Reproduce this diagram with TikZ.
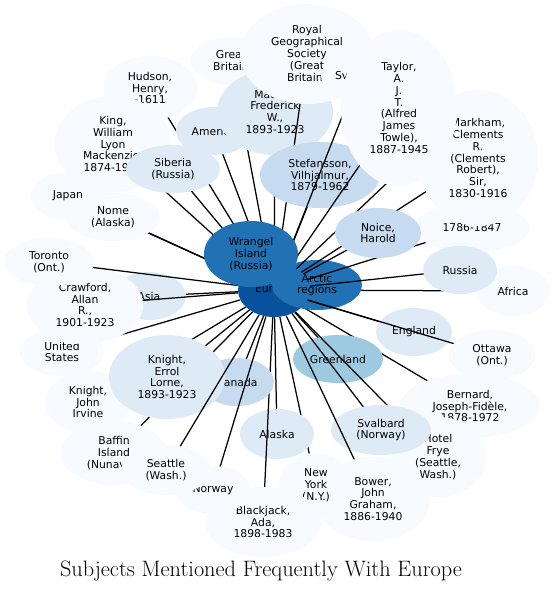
\documentclass[tikz,border=0pt]{standalone}
\usepackage{fontspec}
\newfontfamily\dejavu{DejaVu Sans}
\usetikzlibrary{shapes.geometric}
\definecolor{bl0}{HTML}{F7FBFF}
\definecolor{bl1}{HTML}{DEEBF7}
\definecolor{bl2}{HTML}{C6DBEF}
\definecolor{bl3}{HTML}{9ECAE1}
\definecolor{bl5}{HTML}{2171B5}
\definecolor{bl6}{HTML}{08519C}
\tikzset{bubble/.style={ellipse, inner sep=0pt, align=center, font=\dejavu\fontsize{10.8}{11.9}\selectfont},
link/.style={line width=1.25pt, black},
caption/.style={font=\fontsize{22.3}{26}\selectfont}}

\begin{document}
\begin{tikzpicture}[x=1pt, y=-1pt]
  \useasboundingbox[fill=white] (0,0) rectangle (555,593);
  % hub
  \node[bubble, fill=bl6, minimum width=72pt, minimum height=54pt] (eu) at (274,290) {Europe};
  % subjects, in drawing order: link first, bubble on top of it
  \foreach \n/\x/\y/\w/\h/\col/\txt in {
    africa/513/291/74/50/bl0/{Africa},
    bernard/470/406/140/64/bl0/{Bernard,\\Joseph-Fidèle,\\1878-1972},
    hudson/150/88/94/64/bl0/{Hudson,\\Henry,\\-1611},
    japan/68/196/74/48/bl0/{Japan},
    nome/113/217/94/48/bl0/{Nome\\(Alaska)},
    king/113/144/116/96/bl0/{King,\\William\\Lyon\\Mackenzie,\\1874-1950},
    gb/231/61/80/48/bl0/{Great\\Britain},
    america/214/131/76/48/bl1/{America},
    maurer/275/112/116/86/bl1/{Maurer,\\Frederick\\W.,\\1893-1923},
    royal/307/54/134/100/bl0/{Royal\\Geographical\\Society\\(Great\\Britain)},
    siberia/173/169/94/48/bl1/{Siberia\\(Russia)},
    arctic/317/285/90/50/bl5/{Arctic\\regions},
    greenland/338/359/90/48/bl3/{Greenland},
    stef/320/175/120/66/bl2/{Stefansson,\\Vilhjalmur,\\1879-1962},
    franklin/472/228/116/48/bl0/{1786-1847},
    markham/478/158/120/136/bl0/{Markham,\\Clements\\R.\\(Clements\\Robert),\\Sir,\\1830-1916},
    sv/358/76/74/50/bl0/{\makebox[46pt][l]{Sv}}}{
    \coordinate (c-\n) at (\x,\y);
    \draw[link] (eu) -- (c-\n);
    \node[bubble, fill=\col, minimum width=\w pt, minimum height=\h pt] (\n) at (c-\n) {\txt};
  }
  % link whose end lies under Taylor
  \coordinate (c-hid) at (445,128);
  \draw[link] (eu) -- (c-hid);
  \foreach \n/\x/\y/\w/\h/\col/\txt in {
    taylor/399/108/116/156/bl0/{Taylor,\\A.\\J.\\T.\\(Alfred\\James\\Towle),\\1887-1945},
    noice/378/233/86/50/bl2/{Noice,\\Harold},
    russia/460/270/74/48/bl1/{Russia},
    england/414/332/76/48/bl1/{England},
    ottawa/492/355/86/50/bl0/{Ottawa\\(Ont.)},
    hotel/438/457/96/80/bl0/{Hotel\\Frye\\(Seattle,\\Wash.)},
    svalbard/381/430/100/50/bl1/{Svalbard\\(Norway)},
    bower/373/499/114/84/bl0/{Bower,\\John\\Graham,\\1886-1940},
    newyork/316/485/74/64/bl0/{New\\York\\(N.Y.)},
    alaska/277/434/74/50/bl1/{Alaska},
    blackjack/263/522/116/70/bl0/{Blackjack,\\Ada,\\1898-1983},
    canada/237/382/74/48/bl2/{Canada},
    baffin/114/453/106/64/bl0/{Baffin\\Island\\(Nunavut)},
    kji/88/402/86/62/bl0/{Knight,\\John\\Irvine},
    knighte/167/377/116/84/bl1/{Knight,\\Errol\\Lorne,\\1893-1923},
    norway/213/490/74/48/bl0/{Norway},
    seattle/166/470/90/50/bl0/{Seattle\\(Wash.)},
    us/62/352/84/48/bl0/{United\\States},
    asia/149/296/74/48/bl1/{Asia},
    crawford/85/305/116/78/bl0/{Crawford,\\Allan\\R.,\\1901-1923},
    toronto/49/262/90/48/bl0/{Toronto\\(Ont.)},
    wrangel/251/254/94/66/bl5/{Wrangel\\Island\\(Russia)}}{
    \coordinate (c-\n) at (\x,\y);
    \draw[link] (eu) -- (c-\n);
    \node[bubble, fill=\col, minimum width=\w pt, minimum height=\h pt] (\n) at (c-\n) {\txt};
  }
  % title
  \node[caption] (title) at (261,571) {Subjects Mentioned Frequently With Europe};
\end{tikzpicture}
\end{document}
